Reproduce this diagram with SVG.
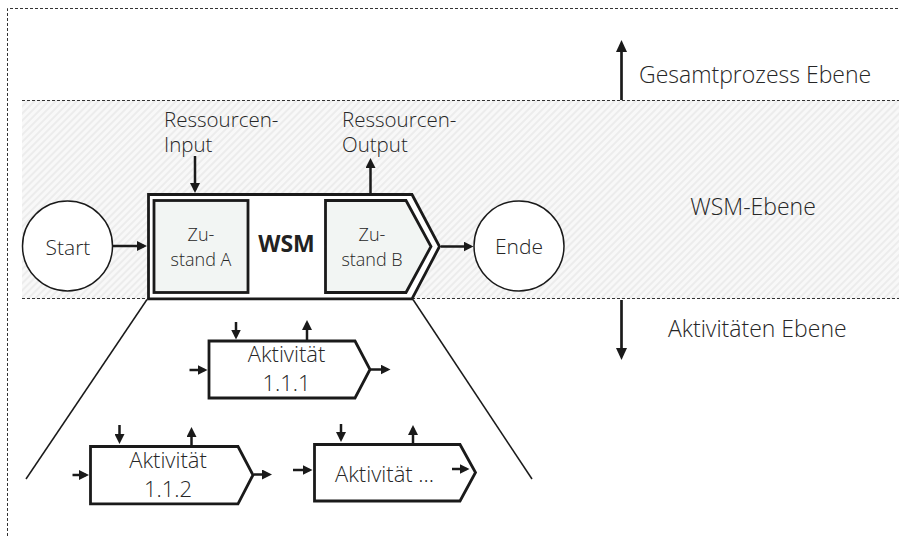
<svg xmlns="http://www.w3.org/2000/svg" width="904" height="536" viewBox="0 0 904 536">
  <defs>
    <!-- light diagonal hatching for the WSM level band -->
    <pattern id="hatch" width="5" height="5" patternUnits="userSpaceOnUse" patternTransform="rotate(45)">
      <rect width="5" height="5" fill="#f8f8f8"/>
      <line x1="1" y1="0" x2="1" y2="5" stroke="#e8e8e8" stroke-width="1.5"/>
    </pattern>
    <marker id="ah" viewBox="0 0 10 10" refX="7" refY="5" markerWidth="10" markerHeight="10" markerUnits="userSpaceOnUse" orient="auto">
      <path d="M0,0 L10,5 L0,10 Z" fill="#1a1a1a"/>
    </marker>
    <marker id="ahBig" viewBox="0 0 12 11" refX="8.5" refY="5.5" markerWidth="12" markerHeight="11" markerUnits="userSpaceOnUse" orient="auto">
      <path d="M0,0 L12,5.5 L0,11 Z" fill="#1a1a1a"/>
    </marker>
  </defs>
  <style>
    .txt { font-family: "Open Sans", "Liberation Sans", sans-serif; font-weight: 300; fill: #262626; }
    .mid { text-anchor: middle; }
    .dash { fill: none; stroke: #333; stroke-width: 1; stroke-dasharray: 3 2; }
    .arr { fill: none; stroke: #1a1a1a; stroke-width: 2.5; marker-end: url(#ah); }
    .arrBig { fill: none; stroke: #1a1a1a; stroke-width: 2.7; marker-end: url(#ahBig); }
    .fan { fill: none; stroke: #1a1a1a; stroke-width: 1.5; }
    .box { fill: #fff; stroke: #1a1a1a; stroke-width: 2.8; stroke-linejoin: miter; }
    .state { fill: #f2f5f3; stroke: #1a1a1a; stroke-width: 2.8; }
    .circ { fill: #fff; stroke: #1a1a1a; stroke-width: 1.5; }
  </style>

  <!-- levels -->
  <g id="levels">
    <rect x="22" y="100" width="877" height="199" fill="url(#hatch)"/>
    <path class="dash" d="M7.5,536 V8.5 H898"/>
    <line class="dash" x1="22" y1="100.5" x2="899" y2="100.5"/>
    <line class="dash" x1="22" y1="298.5" x2="899" y2="298.5"/>
    <text class="txt" x="639" y="83" font-size="23">Gesamtprozess Ebene</text>
    <text class="txt mid" x="753" y="215" font-size="23">WSM-Ebene</text>
    <text class="txt" x="668" y="337" font-size="23">Aktivitäten Ebene</text>
  </g>

  <!-- zoom-out lines from the WSM to the activity level -->
  <g id="fan">
    <line class="fan" x1="147" y1="299.5" x2="26" y2="479"/>
    <line class="fan" x1="413" y1="299.5" x2="532" y2="479"/>
  </g>

  <g id="start">
    <circle class="circ" cx="67.5" cy="246" r="45"/>
    <text class="txt mid" x="68" y="255" font-size="21">Start</text>
  </g>

  <g id="ende">
    <circle class="circ" cx="519" cy="246" r="45"/>
    <text class="txt mid" x="519" y="254" font-size="21">Ende</text>
  </g>

  <g id="wsm">
    <path class="box" d="M148.5,194.5 H412 L439.5,246.5 L412,298.8 H148.5 Z" stroke-width="2.5"/>
    <text class="txt mid" x="286.5" y="252" font-size="23" style="font-weight:700;fill:#222">WSM</text>
  </g>

  <g id="zustand-a">
    <rect class="state" x="154" y="200.5" width="94" height="92"/>
    <text class="txt mid" font-size="18"><tspan x="201" y="241">Zu-</tspan><tspan x="201" y="266">stand A</tspan></text>
  </g>

  <g id="zustand-b">
    <path class="state" d="M325.5,200.5 H406 L431,246.5 L406,292.5 H325.5 Z"/>
    <text class="txt mid" font-size="18"><tspan x="372" y="241">Zu-</tspan><tspan x="372" y="266">stand B</tspan></text>
  </g>

  <g id="ressourcen-input">
    <text class="txt" font-size="20.5"><tspan x="164" y="127">Ressourcen-</tspan><tspan x="164" y="152">Input</tspan></text>
  </g>

  <g id="ressourcen-output">
    <text class="txt" font-size="20.5"><tspan x="342" y="127">Ressourcen-</tspan><tspan x="342" y="152">Output</tspan></text>
  </g>

  <g id="aktivitaet-1-1-1">
    <path class="box" d="M209,341 H355 L370,369.5 L355,398 H209 Z"/>
    <text class="txt mid" font-size="22"><tspan x="286.5" y="362">Aktivität</tspan><tspan x="286.5" y="391">1.1.1</tspan></text>
  </g>

  <g id="aktivitaet-1-1-2">
    <path class="box" d="M90.5,446.5 H238 L253,475 L238,503.8 H90.5 Z"/>
    <text class="txt mid" font-size="22"><tspan x="168" y="468">Aktivität</tspan><tspan x="168" y="497">1.1.2</tspan></text>
  </g>

  <g id="aktivitaet-weitere">
    <path class="box" d="M314.5,444.5 H460 L475.5,472.5 L460,501 H314.5 Z"/>
    <text class="txt" x="335" y="482" font-size="22">Aktivität …</text>
  </g>

  <g id="connectors">
    <line class="arrBig" x1="621.5" y1="100" x2="621.5" y2="43.5"/>
    <line class="arrBig" x1="621.5" y1="300" x2="621.5" y2="356.5"/>

    <line class="arr" x1="113" y1="246" x2="144" y2="246"/>
    <line class="arr" x1="441" y1="246.5" x2="470.5" y2="246.5"/>
    <line class="arr" x1="195" y1="156" x2="195" y2="190"/>
    <line class="arr" x1="370.5" y1="194" x2="370.5" y2="161"/>

    <line class="arr" x1="189.5" y1="370" x2="204.5" y2="370"/>
    <line class="arr" x1="371" y1="369.5" x2="387.5" y2="369.5"/>
    <line class="arr" x1="236" y1="322" x2="236" y2="336.5"/>
    <line class="arr" x1="307" y1="340" x2="307" y2="323"/>

    <line class="arr" x1="72.5" y1="475" x2="86" y2="475"/>
    <line class="arr" x1="254" y1="474.5" x2="269" y2="474.5"/>
    <line class="arr" x1="119.5" y1="425" x2="119.5" y2="441"/>
    <line class="arr" x1="191.5" y1="445" x2="191.5" y2="430"/>

    <line class="arr" x1="293" y1="470" x2="309.5" y2="470"/>
    <line class="arr" x1="452" y1="469" x2="466.5" y2="469"/>
    <line class="arr" x1="341" y1="424" x2="341" y2="439"/>
    <line class="arr" x1="413" y1="443" x2="413" y2="428"/>
  </g>
</svg>
